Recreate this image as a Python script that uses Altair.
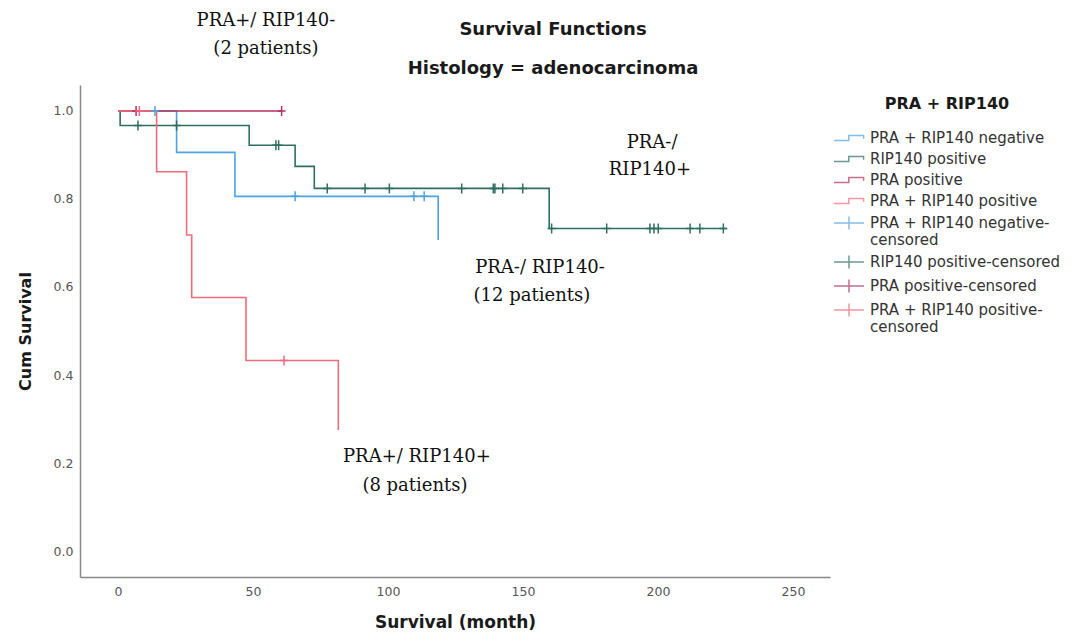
import altair as alt
import pandas as pd

# ---- series keys / colours ----
SER = ["PRA + RIP140 negative", "RIP140 positive", "PRA positive", "PRA + RIP140 positive"]
CEN = ["PRA + RIP140 negative-|censored", "RIP140 positive-censored",
       "PRA positive-censored", "PRA + RIP140 positive-|censored"]
COLORS = ["#4ba4df", "#2f6f5f", "#b4315f", "#f26b7a"]

# ---- survival step curves (time in months, cumulative survival) ----
neg_t = [0, 21.7, 43.3, 118.6]
neg_s = [1.0, 0.906, 0.806, 0.707]
rip_t = [0, 0.8, 48.6, 65.6, 72.7, 159.7, 225.4]
rip_s = [1.0, 0.967, 0.922, 0.874, 0.824, 0.733, 0.733]
pra_t = [0, 60.6]
pra_s = [1.0, 1.0]
pos_t = [0, 14.3, 25.4, 27.3, 47.4, 81.6]
pos_s = [1.0, 0.862, 0.718, 0.576, 0.433, 0.275]

# ---- censored observations ----
neg_ct = [13.7, 65.6, 109.6, 113.4]
neg_cs = [1.0, 0.806, 0.806, 0.806]
rip_ct = [7.4, 21.7, 58.5, 59.5, 77.5, 91.5, 100.5, 127.3, 139.0, 139.6, 142.5, 149.9,
          160.6, 181.0, 197.0, 198.5, 200.1, 211.9, 215.5, 224.2]
rip_cs = [0.967, 0.967, 0.922, 0.922, 0.824, 0.824, 0.824, 0.824, 0.824, 0.824, 0.824, 0.824,
          0.733, 0.733, 0.733, 0.733, 0.733, 0.733, 0.733, 0.733]
pra_ct = [6.7, 60.6]
pra_cs = [1.0, 1.0]
pos_ct = [7.9, 61.5]
pos_cs = [1.0, 0.433]

# ---- annotations ----
ann_text = ["PRA+/ RIP140-", "(2 patients)", "PRA-/", "RIP140+",
            "PRA-/ RIP140-", "(12 patients)", "PRA+/ RIP140+", "(8 patients)"]
ann_x = [54.8, 54.8, 197.8, 197.0, 156.3, 153.3, 110.7, 110.0]
ann_y = [1.205, 1.141, 0.927, 0.866, 0.643, 0.580, 0.214, 0.148]

x_ticks = [0, 50, 100, 150, 200, 250]
y_ticks = [0.0, 0.2, 0.4, 0.6, 0.8, 1.0]

# ---- tables ----
rows = []
for key, ts, ss in zip(SER, [neg_t, rip_t, pra_t, pos_t], [neg_s, rip_s, pra_s, pos_s]):
    for i, (t, s) in enumerate(zip(ts, ss)):
        rows.append({"key": key, "t": t, "s": s, "i": i})
lines_df = pd.DataFrame(rows)

crow = []
for key, ts, ss in zip(CEN, [neg_ct, rip_ct, pra_ct, pos_ct], [neg_cs, rip_cs, pra_cs, pos_cs]):
    for t, s in zip(ts, ss):
        crow.append({"key": key, "t": t, "s": s})
cens_df = pd.DataFrame(crow)

keys_df = pd.DataFrame({"key": SER + CEN})
ann_df = pd.DataFrame({"text": ann_text, "t": ann_x, "s": ann_y})

DOMAIN = SER + CEN
STEP = "M-1,0.3H0.85V-0.3H2.7V0.1"
CROSS_LEG = "M-1,0H2.75M0.875,-0.8V0.8"
CROSS = "M0,-1V1M-0.8,0H0.8"

legend = alt.Legend(
    title="PRA + RIP140", orient="none", legendX=753, legendY=11,
    titleFont="DejaVu Sans", titleFontSize=16, titleFontWeight="bold", titleColor="#1a1a1a",
    titleAnchor="middle", titlePadding=17,
    labelFont="DejaVu Sans", labelFontSize=15, labelColor="#333333",
    labelExpr="split(datum.label, '|')", labelLimit=400, labelOffset=19,
    symbolSize=256, symbolStrokeWidth=1.5, rowPadding=4,
)
color = alt.Color("key:N", scale=alt.Scale(domain=DOMAIN, range=COLORS + COLORS), legend=legend)
shape = alt.Shape("key:N", scale=alt.Scale(domain=DOMAIN, range=[STEP] * 4 + [CROSS_LEG] * 4), legend=legend)

xs = alt.Scale(domain=[-14.07, 263.7], zero=False, nice=False)
ys = alt.Scale(domain=[-0.059, 1.059], zero=False, nice=False)

X = alt.X("t:Q", scale=xs, axis=alt.Axis(
    values=x_ticks, title="Survival (month)", ticks=False, grid=False,
    labelFont="DejaVu Sans", labelFontSize=12.5, labelColor="#555555", labelPadding=8,
    domainColor="#888888", domainWidth=1.5,
    titleFont="DejaVu Sans", titleFontSize=17, titleFontWeight="bold", titleColor="#1a1a1a",
    titlePadding=17))
Y = alt.Y("s:Q", scale=ys, axis=alt.Axis(
    values=y_ticks, format=".1f", title="Cum Survival", ticks=False, grid=False,
    labelFont="DejaVu Sans", labelFontSize=12.5, labelColor="#555555", labelPadding=7,
    domainColor="#888888", domainWidth=1.5,
    titleFont="DejaVu Sans", titleFontSize=16, titleFontWeight="bold", titleColor="#1a1a1a",
    titlePadding=20))

# invisible (clipped) layer that only feeds the legend its per-entry symbols
legend_layer = alt.Chart(keys_df).mark_point(filled=False, size=256, strokeWidth=1.5, clip=True).encode(
    x=alt.value(-300), y=alt.value(-300), color=color, shape=shape)

line_layer = alt.Chart(lines_df).mark_line(interpolate="step-after", strokeWidth=1.6).encode(
    x=X, y=Y, color=color, order="i:Q")

cens_layer = alt.Chart(cens_df).mark_point(shape=CROSS, size=100, filled=False, strokeWidth=1.5, opacity=1).encode(
    x="t:Q", y="s:Q", color=color)

ann_layer = alt.Chart(ann_df).mark_text(font="DejaVu Serif", fontSize=18, color="#111111",
                                        align="center", baseline="middle").encode(
    x="t:Q", y="s:Q", text="text:N")

chart = alt.layer(legend_layer, line_layer, cens_layer, ann_layer).properties(
    width=750, height=492, background="white",
    title=alt.TitleParams(
        text="Survival Functions", subtitle="Histology = adenocarcinoma",
        font="DejaVu Sans", fontSize=18, fontWeight="bold", color="#1a1a1a",
        subtitleFont="DejaVu Sans", subtitleFontSize=18, subtitleFontWeight="bold",
        subtitleColor="#1a1a1a", subtitlePadding=21,
        anchor="middle", dx=98, dy=72, offset=6),
    autosize=alt.AutoSizeParams(type="none"),
    padding={"left": 72, "top": 77, "right": 240, "bottom": 57},
).configure_view(stroke=None)

chart.save("out.html", embed_options={"renderer": "svg", "actions": False})
